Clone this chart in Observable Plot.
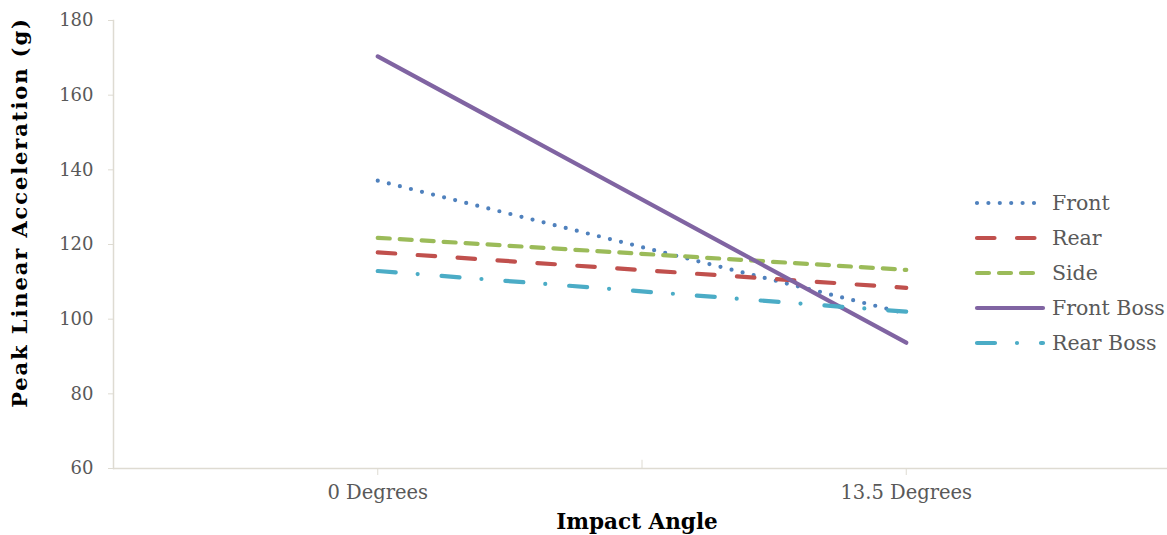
<!DOCTYPE html>
<html>
<head>
<meta charset="utf-8">
<script src="https://cdn.jsdelivr.net/npm/d3@7"></script>
<script src="https://cdn.jsdelivr.net/npm/@observablehq/plot@0.6"></script>
<style>
  html, body { margin: 0; padding: 0; background: #fff; }
  #wrap { position: relative; width: 1167px; height: 535px; }
  #wrap svg text { font-family: "DejaVu Serif", serif; }
  #legend { position: absolute; left: 970px; top: 188px; }
  #legend text { font-size: 20.5px; fill: #595959; }
</style>
</head>
<body>
<div id="wrap"></div>
<script>
// Impact angle categories and peak linear acceleration (g) per helmet location
const categories = ["0 Degrees", "13.5 Degrees"];
const seriesNames = ["Front", "Rear", "Side", "Front Boss", "Rear Boss"];
const front     = [137.1, 101.5];
const rear      = [117.9, 108.4];
const side      = [121.8, 113.2];
const frontBoss = [170.4, 93.7];
const rearBoss  = [112.9, 102.0];
const yTicks = [60, 80, 100, 120, 140, 160, 180];
const yTitle = "Peak Linear Acceleration (g)";
const xTitle = "Impact Angle";

const values = [front, rear, side, frontBoss, rearBoss];
const colors = ["#4f81bd", "#c0504d", "#9bbb59", "#8064a2", "#4bacc6"];
const dashes = ["0 11.4", "17.5 22.5", "12 10", null, "18 22 0 24"];

const rows = seriesNames.flatMap((name, s) =>
  values[s].map((v, i) => ({series: name, i, value: v})));

const axisColor = "#dedbd2";
const tickColor = "#595959";

const lines = seriesNames.map((name, s) =>
  Plot.line(rows.filter(d => d.series === name), {
    x: "i", y: "value",
    stroke: colors[s], strokeWidth: 4.2,
    strokeDasharray: dashes[s] ?? undefined,
    strokeLinecap: "round", strokeLinejoin: "round"
  }));

const chart = Plot.plot({
  width: 1167, height: 535,
  marginLeft: 113, marginRight: -3, marginTop: 20, marginBottom: 67,
  x: {domain: [-0.5, 1.5]},
  y: {domain: [60, 180]},
  style: {fontFamily: "DejaVu Serif, serif", background: "#fff"},
  marks: [
    Plot.axisY({ticks: yTicks, tickSize: 5, tickPadding: 15, stroke: axisColor,
      fontSize: 18, color: tickColor, tickFormat: d => d, label: null}),
    Plot.axisX({ticks: [0, 1], tickSize: 7, tickPadding: 10, stroke: axisColor,
      fontSize: 19.5, color: tickColor, tickFormat: i => categories[i], label: null}),
    Plot.frame({anchor: "left", stroke: axisColor, strokeWidth: 1.5}),
    Plot.ruleY([60], {stroke: axisColor, strokeWidth: 1.5}),
    Plot.ruleX([0.5], {y1: 60, y2: 62.2, stroke: axisColor}),
    // axis titles
    Plot.text([yTitle], {frameAnchor: "left", rotate: -90, dx: -93, dy: -32,
      textAnchor: "middle", lineAnchor: "middle",
      text: d => d, fontSize: 21, fontWeight: "bold", fill: "#000"}),
    Plot.text([xTitle], {frameAnchor: "bottom", dx: -5, dy: 54,
      textAnchor: "middle", lineAnchor: "middle",
      text: d => d, fontSize: 21.5, fontWeight: "bold", fill: "#000"}),
    ...lines
  ]
});
// widen the vertical title's tracking
chart.querySelectorAll("text").forEach(t => {
  if (t.textContent === yTitle) t.style.letterSpacing = "1.9px";
});
document.getElementById("wrap").appendChild(chart);

// Legend drawn next to the lines, one row per series
const lg = d3.select("#wrap").append("svg").attr("id", "legend")
  .attr("width", 197).attr("height", 180);
seriesNames.forEach((name, s) => {
  const y = 15 + s * 35;
  lg.append("line").attr("x1", 7).attr("x2", 73).attr("y1", y).attr("y2", y)
    .attr("stroke", colors[s]).attr("stroke-width", 4.2)
    .attr("stroke-linecap", "round")
    .attr("stroke-dasharray", dashes[s]);
  lg.append("text").attr("x", 82).attr("y", y).attr("dy", "0.35em").text(name);
});
</script>
</body>
</html>
